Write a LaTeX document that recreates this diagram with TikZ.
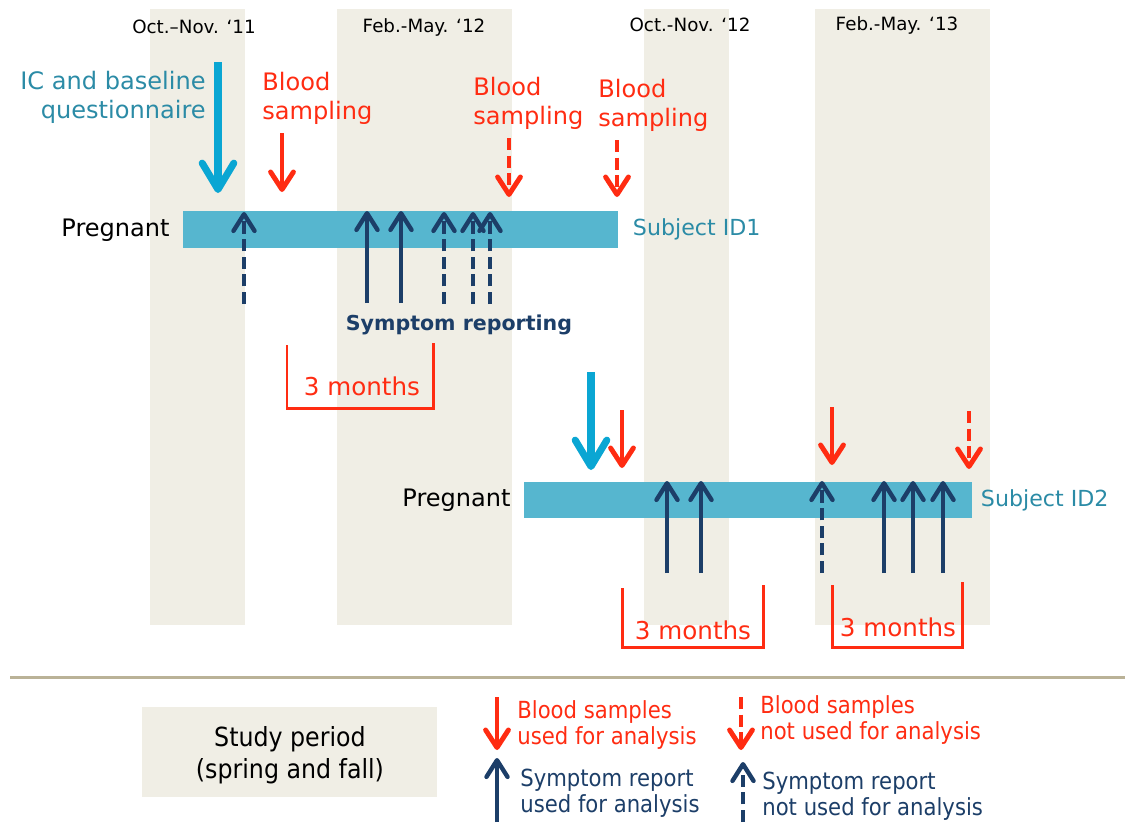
\documentclass[tikz,border=0pt]{standalone}
\usepackage{fontspec}
\setmainfont{DejaVu Sans}
\newfontfamily\legfont{DejaVu Sans Condensed}
\usetikzlibrary{positioning,arrows.meta}
\definecolor{band}{HTML}{F0EEE5}
\definecolor{barc}{HTML}{56B6CF}
\definecolor{icc}{HTML}{0AA6D3}
\definecolor{tealt}{HTML}{2B8BA6}
\definecolor{bld}{HTML}{FF2C12}
\definecolor{navy}{HTML}{1C3E68}
\definecolor{sep}{HTML}{BAB297}

\begin{document}
\begin{tikzpicture}[x=0.02cm, y=-0.02cm,
  lab/.style={inner sep=0pt, font=\fontsize{13.7}{16.5}\selectfont},
  head/.style={inner sep=0pt, font=\fontsize{10.4}{12}\selectfont},
  subj/.style={inner sep=0pt, text=tealt, font=\fontsize{12.6}{15}\selectfont},
  blood/.style={lab, text=bld, align=left, anchor=west},
  months/.style={inner sep=0pt, text=bld, font=\fontsize{14}{16}\selectfont},
  leg/.style={inner sep=0pt, align=left, anchor=west, font=\legfont\fontsize{13.4}{14.8}\selectfont},
  pregbar/.style={fill=barc, inner sep=0pt, anchor=north west},
  icarr/.style={draw=icc, line width=4pt, -{Straight Barb[length=15pt, width=18pt, round]}},
  bloodarr/.style={draw=bld, line width=2.8pt, -{Straight Barb[length=10pt, width=13pt, round]}},
  symarr/.style={draw=navy, line width=2.5pt, -{Straight Barb[length=9.5pt, width=12pt, round]}},
  unused/.style={dash pattern=on 7pt off 3pt},
  brk/.style={draw=bld, line width=1.7pt}]
\useasboundingbox (0,0) rectangle (1128,822);
% ---------------- study periods
\foreach \xa/\xb in {150/245, 337/512, 644/729, 815/990}
  \fill[band] (\xa,9) rectangle (\xb,625);
\node[head] (p1) at (194,27) {Oct.–Nov. ‘11};
\node[head] (p2) at (424,27) {Feb.-May. ‘12};
\node[head] (p3) at (690,25) {Oct.-Nov. ‘12};
\node[head] (p4) at (897,25) {Feb.-May. ‘13};
% ---------------- subject 1
\node[pregbar, minimum width=8.7cm, minimum height=0.74cm] (id1) at (183,211) {};
\node[lab, left=0.26cm of id1] (preg1) {Pregnant};
\node[subj, right=0.28cm of id1] (sid1) {Subject ID1};
\node[lab, text=tealt, align=right, anchor=east] (ic1) at (206,97) {IC and baseline\\questionnaire};
\node[blood] (bs1) at (262,98) {Blood\\sampling};
\node[blood] (bs2) at (473,103) {Blood\\sampling};
\node[blood] (bs3) at (598,105) {Blood\\sampling};
\draw[icarr] (218,62) -- (218,193);
\draw[bloodarr] (282,133) -- (282,192);
\draw[bloodarr, unused] (509,138) -- (509,197);
\draw[bloodarr, unused] (617,140) -- (617,197);
\foreach \x in {367,401}
  \draw[symarr] (\x,303) -- (\x,211);
\foreach \x in {244,444,473,490}
  \draw[symarr, unused] (\x,304) -- (\x,212);
\node[inner sep=0pt, text=navy, font=\bfseries\fontsize{11.7}{14}\selectfont] (rep) at (459,325) {Symptom reporting};
\draw[brk] (287,345) |- (433,408) -- (433,343);
\node[months] (m1) at (362,386) {3 months};
% ---------------- subject 2
\node[pregbar, minimum width=8.96cm, minimum height=0.72cm] (id2) at (524,482) {};
\node[lab, left=0.26cm of id2] (preg2) {Pregnant};
\node[subj, right=0.16cm of id2] (sid2) {Subject ID2};
\draw[icarr] (591,372) -- (591,470);
\draw[bloodarr] (622,410) -- (622,468);
\draw[bloodarr] (832,407) -- (832,465);
\draw[bloodarr, unused] (969,411) -- (969,469);
\foreach \x in {667,701,884,913,943}
  \draw[symarr] (\x,573) -- (\x,481);
\draw[symarr, unused] (822,573) -- (822,481);
\draw[brk] (622,588) |- (763,647) -- (763,585);
\node[months] (m2) at (693,630) {3 months};
\draw[brk] (832,585) |- (962,647) -- (962,582);
\node[months] (m3) at (898,627) {3 months};
% ---------------- legend
\draw[sep, line width=1.7pt] (10,677) -- (1125,677);
\fill[band] (142,707) rectangle (437,797);
\node[align=center, inner sep=0pt, font=\legfont\fontsize{15}{18}\selectfont] (studyp) at (290,755) {Study period\\(spring and fall)};
\draw[bloodarr] (497,697) -- (497,750);
\node[leg, text=bld] (lb1) at (517,725) {Blood samples\\used for analysis};
\draw[bloodarr, unused] (741,697) -- (741,750);
\node[leg, text=bld] (lb2) at (760,720) {Blood samples\\not used for analysis};
\draw[symarr] (497,822) -- (497,758);
\node[leg, text=navy] (ls1) at (520,793) {Symptom report\\used for analysis};
\draw[symarr, unused] (743,822) -- (743,762);
\node[leg, text=navy] (ls2) at (762,796) {Symptom report\\not used for analysis};
\end{tikzpicture}
\end{document}
